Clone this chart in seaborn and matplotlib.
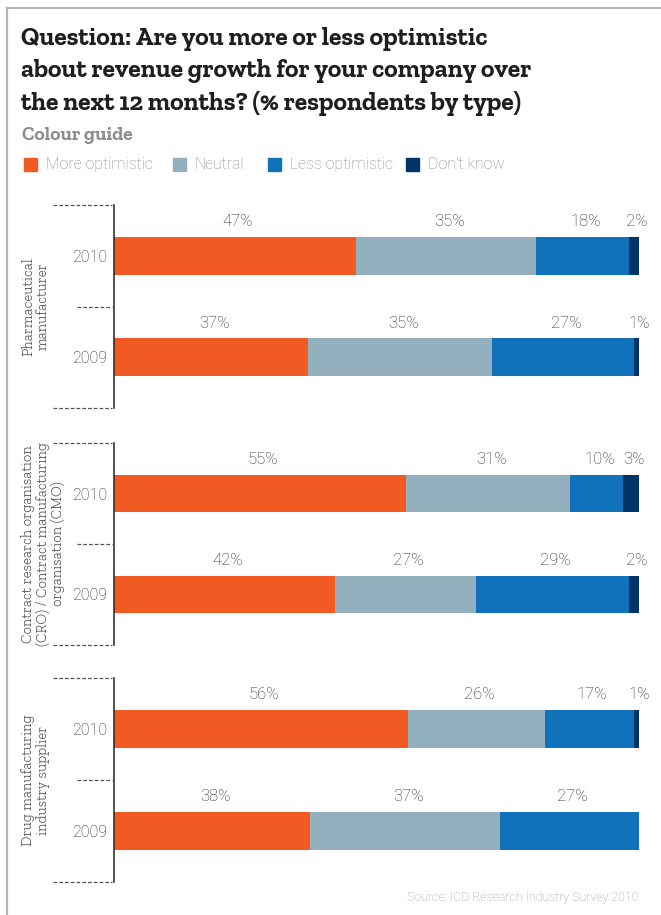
import matplotlib
matplotlib.use("Agg")
import matplotlib.pyplot as plt
from matplotlib.lines import Line2D
import numpy as np
import pandas as pd
import seaborn as sns

# ---------------- data ----------------
groups = ["Pharmaceutical\nmanufacturer",
          "Contract research organisation\n(CRO) / Contract manufacturing\norganisation (CMO)",
          "Drug manufacturing\nindustry supplier"]
years = ["2010", "2009"]
series = ["More optimistic", "Neutral", "Less optimistic", "Don't know"]
more_optimistic = [47, 37, 55, 42, 56, 38]
neutral = [35, 35, 31, 27, 26, 37]
less_optimistic = [18, 27, 10, 29, 17, 27]
dont_know = [2, 1, 3, 2, 1, np.nan]
colors = ["#F15A22", "#94AFBE", "#1072BA", "#003466"]

title = ("Question: Are you more or less optimistic\n"
         "about revenue growth for your company over\n"
         "the next 12 months? (% respondents by type)")
source = "Source: ICD Research Industry Survey 2010"

# ---------------- table ----------------
rows = []
k = 0
for g in groups:
    for y in years:
        rows.append({"group": g, "year": y,
                     series[0]: more_optimistic[k], series[1]: neutral[k],
                     series[2]: less_optimistic[k], series[3]: dont_know[k]})
        k += 1
df = pd.DataFrame(rows)
vals = df[series].fillna(0)
tot = vals.sum(axis=1)
shares = vals.div(tot, axis=0) * 100
cums = shares.cumsum(axis=1)
for s in series:
    df["cum_" + s] = cums[s]
    df["start_" + s] = cums[s] - shares[s]

# ---------------- figure ----------------
W, H = 661, 915
fig = plt.figure(figsize=(W / 100, H / 100), dpi=100)
fig.patch.set_facecolor("white")

def fx(px):
    return px / W

def fy(py):
    return 1 - py / H

LIGHT = ["Roboto", "DejaVu Sans"]
SLAB = ["Zilla Slab", "DejaVu Serif"]

# frame lines (top & left)
fig.add_artist(Line2D([fx(7), 1], [fy(8), fy(8)], color="#b5b5b5", lw=1.6))
fig.add_artist(Line2D([fx(7), fx(7)], [fy(8), 0], color="#b5b5b5", lw=1.6))

# title
fig.text(fx(21), fy(27), title, ha="left", va="top", fontsize=18.4,
         fontweight="bold", family=SLAB, color="#1e1e1e", linespacing=1.43)
fig.text(fx(22), fy(135), "Colour guide", ha="left", va="center", fontsize=14,
         fontweight="bold", family=SLAB, color="#8a8f90")

# legend
leg_sq_x = [24, 173, 268, 406]
for s, c, x0 in zip(series, colors, leg_sq_x):
    fig.patches.append(plt.Rectangle((fx(x0), fy(171)), fx(13), 13 / H,
                                     transform=fig.transFigure, color=c))
    fig.text(fx(x0 + 22), fy(164), s, ha="left", va="center", fontsize=11.4,
             family=LIGHT, fontweight="light", color="#8a8a8a")

# axes
ax_tops = [205, 443, 678]
ax_bots = [408, 645, 882]
left_px, right_px = 114, 639
bar_w = 0.37

for gi, g in enumerate(groups):
    ax = fig.add_axes([fx(left_px), fy(ax_bots[gi]), fx(right_px - left_px),
                       (ax_bots[gi] - ax_tops[gi]) / H])
    sub = df[df["group"] == g]
    for s, c in reversed(list(zip(series, colors))):
        sns.barplot(data=sub, x="cum_" + s, y="year", order=years, color=c,
                    width=bar_w, orient="h", errorbar=None, ax=ax,
                    saturation=1, edgecolor="none", linewidth=0)
    ax.set_xlim(0, 100)
    ax.set_ylim(1.5, -0.5)
    ax.set_xlabel("")
    ax.set_ylabel("")
    ax.set_xticks([])
    for sp in ["top", "right", "bottom"]:
        ax.spines[sp].set_visible(False)
    ax.spines["left"].set_color("#222222")
    ax.spines["left"].set_linewidth(1.1)
    ax.tick_params(axis="y", length=0, pad=5, labelsize=11.5, labelcolor="#2a2a2a")
    for lab in ax.get_yticklabels():
        lab.set_family(LIGHT)
        lab.set_fontweight("light")
    ax.set_facecolor("none")
    # value labels
    for yi, (_, r) in enumerate(sub.iterrows()):
        for s in series:
            v = r[s]
            if pd.isna(v):
                continue
            xc = (r["start_" + s] + r["cum_" + s]) / 2
            ax.text(xc + 0.6, yi - bar_w / 2 - 0.15, f"{int(v)}%", ha="center",
                    va="center", fontsize=12, family=LIGHT, fontweight="light",
                    color="#2a2a2a")
    # dashed tick lines
    top, bot = ax_tops[gi], ax_bots[gi]
    mid = (top + bot) / 2
    for yy, x0 in [(top, 53), (mid, 77), (bot, 53)]:
        fig.add_artist(Line2D([fx(x0), fx(112)], [fy(yy), fy(yy)], color="#555555",
                              lw=0.9, linestyle=(0, (3, 1.6))))
    # group label
    fig.text(fx(21), fy(mid), g, rotation=90, ha="left", va="center",
             multialignment="center", fontsize=10.6, family=SLAB, fontweight="light",
             color="#555555", linespacing=1.1)

fig.text(fx(638), fy(897), source, ha="right", va="center", fontsize=8.9,
         family=LIGHT, fontweight="light", color="#9a9a9a")

fig.savefig("out.png", dpi=100, facecolor="white")
